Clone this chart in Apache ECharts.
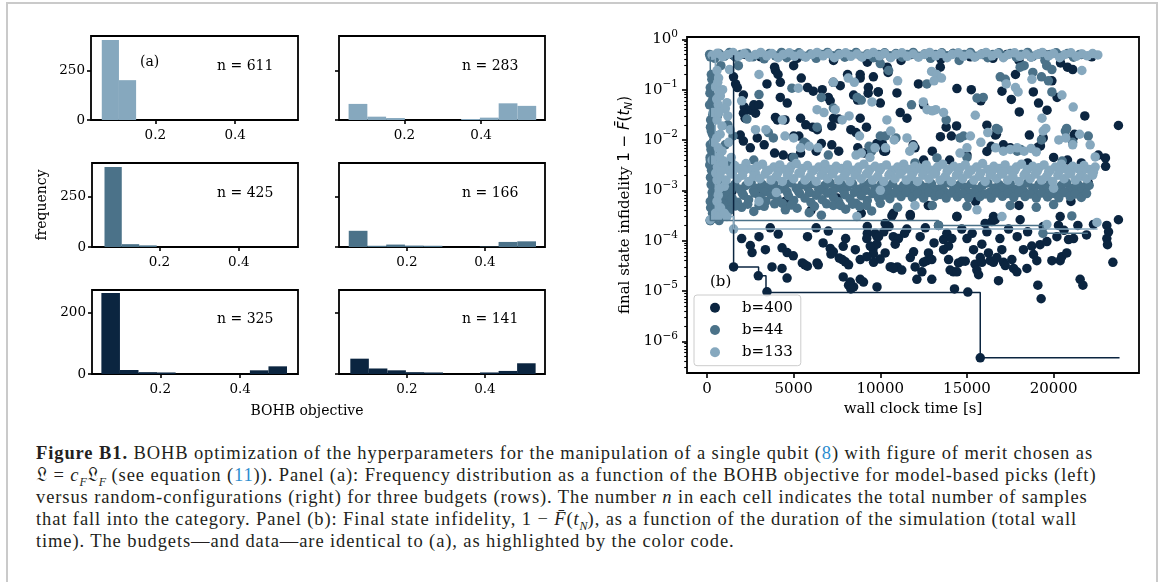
<!DOCTYPE html>
<html><head><meta charset="utf-8">
<script src="https://cdn.jsdelivr.net/npm/echarts@6/dist/echarts.min.js"></script>
<style>
html,body{margin:0;padding:0;background:#fff;}
#wrap{position:relative;width:1167px;height:582px;overflow:hidden;background:#fff;}
#frame{position:absolute;left:6px;top:2px;width:1152px;height:700px;border:2px solid #cacaca;box-sizing:border-box;}
#chart{position:absolute;left:0;top:0;width:1167px;height:430px;}
#cap{position:absolute;left:36px;top:442px;font-family:'Liberation Serif',serif;font-size:18.5px;letter-spacing:0.9px;line-height:22px;color:#231f20;white-space:nowrap;}
#cap .l{color:#2b8ccf;}
#cap sub{font-size:12px;line-height:0;letter-spacing:0;}
</style>
</head><body>
<div id="wrap">
<div id="frame"></div>
<div id="chart"></div>
<div id="cap">
<div><b>Figure B1.</b> BOHB optimization of the hyperparameters for the manipulation of a single qubit (<span class="l">8</span>) with figure of merit chosen as</div>
<div>𝔏 = <i>c<sub>F</sub></i>𝔏<sub><i>F</i></sub> (see equation (<span class="l">11</span>)). Panel (a): Frequency distribution as a function of the BOHB objective for model-based picks (left)</div>
<div>versus random-configurations (right) for three budgets (rows). The number <i>n</i> in each cell indicates the total number of samples</div>
<div>that fall into the category. Panel (b): Final state infidelity, 1 − <i>F̄</i>(<i>t<sub>N</sub></i>), as a function of the duration of the simulation (total wall</div>
<div>time). The budgets—and data—are identical to (a), as highlighted by the color code.</div>
</div>
</div>
<script>
// ---------------- DATA ----------------
// Histogram panels (order: row1-left, row1-right, row2-left, row2-right, row3-left, row3-right)
const histEdges = [
  [0.066, 0.109, 0.152],
  [0.054, 0.103, 0.152, 0.201, 0.250, 0.299, 0.348, 0.397, 0.446, 0.495, 0.544],
  [0.0615, 0.105, 0.149, 0.193],
  [0.051, 0.099, 0.147, 0.195, 0.243, 0.291, 0.339, 0.387, 0.435, 0.483, 0.531],
  [0.0525, 0.099, 0.1455, 0.192, 0.2385, 0.285, 0.3315, 0.378, 0.4245, 0.471, 0.5175],
  [0.055, 0.1025, 0.150, 0.1975, 0.245, 0.2925, 0.340, 0.3875, 0.435, 0.4825, 0.530]
];
const histCounts = [
  [408, 203],
  [82, 17, 10, 0, 0, 0, 5, 12, 85, 72],
  [395, 14, 8],
  [80, 6, 12, 7, 6, 0, 0, 2, 25, 28],
  [264, 13, 6, 5, 0, 0, 0, 0, 12, 25],
  [50, 18, 12, 6, 5, 0, 0, 5, 10, 35]
];
const histN = [611, 283, 425, 166, 325, 141];
const histXTicks = [0.2, 0.4];
const histYTicks = [[0, 250], [0, 250], [0, 250], [0, 250], [0, 200], [0, 200]];
const histXRange = [[0.039, 0.5575], [0.029, 0.567], [0.030, 0.549], [0.026, 0.554], [0.029, 0.545], [0.026, 0.554]];
const histYMax = [428, 428, 415, 415, 274, 274];

// Scatter (b): wall clock time [s], final state infidelity
const budgets = ['b=400', 'b=44', 'b=133'];
const pts400 = [
[1535,0.48],[2200,0.5],[3100,0.45],[4400,0.5],[5200,0.42],[6500,0.5],[7300,0.38],[8000,0.5],[9250,0.35],[9900,0.42],[10600,0.45],[11200,0.38],[11800,0.5],[12900,0.45],[13500,0.4],[14200,0.52],[15200,0.45],[15900,0.5],[16500,0.42],[17300,0.5],[18000,0.38],[18700,0.45],[19500,0.5],[20400,0.34],[20800,0.28],[21100,0.25],[21600,0.5],[22200,0.45],[8840,0.2],[13460,0.28],[3900,0.28],[5000,0.3],
[1530,0.18],[1650,0.13],[1750,0.11],[2100,0.078],[2150,0.045],[2500,0.039],[2800,0.034],[3460,0.13],[3950,0.24],[4100,0.2],[4230,0.14],[4230,0.07],[4630,0.054],[5440,0.17],[5800,0.11],[6130,0.093],[6650,0.1],[7000,0.07],[7110,0.06],[7290,0.14],[7690,0.12],[8110,0.2],[8460,0.078],[8690,0.062],[8840,0.17],[9600,0.18],[9880,0.09],[10400,0.28],[10450,0.22],
[2100,0.034],[2200,0.027],[2700,0.05],[3000,0.05],[3950,0.028],[4060,0.025],[4500,0.025],[5400,0.027],[5700,0.02],[6100,0.018],[6360,0.016],[5000,0.012],[5300,0.012],[7300,0.027],[7600,0.026],[7200,0.019],[8300,0.016],[8600,0.014],[9200,0.018],
[10960,0.086],[14420,0.105],[15250,0.1],[17020,0.093],[17560,0.064],[18830,0.09],[19130,0.054],[19620,0.039],[18020,0.036],[16150,0.0197],[16640,0.0125],[16700,0.013],[13800,0.018],[14100,0.012],[14400,0.019],[13470,0.0116],[18600,0.0125],[19400,0.011],[21130,0.011],[21200,0.013],[11150,0.035],[11540,0.027],[9880,0.09],[10000,0.054],[9310,0.11],[9300,0.085],[8840,0.027],[23740,0.0194],[12500,0.05],[15800,0.06],[20200,0.07],[21800,0.03],[12200,0.13],[17800,0.2],[19900,0.15],
[1920,0.0125],[2100,0.0095],[2500,0.007],[2900,0.011],[3300,0.008],[3900,0.0055],[4400,0.005],[4900,0.0045],[5400,0.0055],[6300,0.006],[6600,0.0085],[7200,0.008],[7600,0.006],[8700,0.007],[9100,0.0055],[9800,0.0085],[10300,0.006],[10120,0.0085],[10200,0.006],[11900,0.008],[12000,0.007],[13000,0.006],[14000,0.004],[15000,0.005],[16150,0.0059],[16400,0.0075],[17100,0.008],[17500,0.007],[19240,0.0076],[19100,0.0072],[20000,0.0045],[20800,0.004],[21600,0.0035],[22580,0.005],[22990,0.0044],[22000,0.0014],[18500,0.0035],[12500,0.004],[1440,0.00095],[23000,0.003],
[10750,0.00035],[11730,0.00033],[14420,0.0003],[16530,0.0003],[20380,0.0003],[12770,0.0005],[8900,0.00035],[6000,0.0004],[4500,0.0006],[15500,0.0006],[18000,0.0005],[21000,0.0006],[3000,0.0008],[7500,0.0007],
[3650,0.00018],[4110,0.000135],[2600,5.8e-5],[3370,6.6e-5],[4330,7.2e-5],[4620,5.8e-5],[4980,5e-5],[5500,3.6e-5],[5650,3.3e-5],[5790,3.1e-5],[3750,3e-5],[4330,2.8e-5],[4620,1.8e-5],[6300,0.00018],[7000,0.000155],[7110,7e-5],[7290,6e-5],[7150,5.4e-5],[6350,3.6e-5],[6420,3.3e-5],[7630,4.5e-5],[7800,4.2e-5],[7980,3.8e-5],[7860,7.7e-5],[7860,1.9e-5],[8270,1.5e-5],[8460,1.2e-5],[8170,1.3e-5],[8170,3.3e-5],[8560,6.6e-5],[9250,0.00014],[9810,0.00012],[9250,0.00019],[9580,6.9e-5],[9600,5.5e-5],[9990,4.3e-5],[10200,0.00015],[10500,0.00019],[10750,0.00012],[10650,3e-5],[10980,3e-5],[1535,3e-5],[2960,2e-5],[3460,9.6e-6],[9810,1.2e-5],[8300,1.1e-5],[2000,0.00011],[2500,8e-5],[3000,0.00012],
[8840,4.2e-5],[9220,4.8e-5],[9610,3.7e-5],[9700,0.00014],[9900,0.00012],[9800,8.5e-5],[9220,0.00011],[9420,7.8e-5],[10280,0.00022],[10670,0.00031],[10280,5.7e-5],[10570,3e-5],[10760,2.8e-5],[11240,2.6e-5],[11050,0.00011],[10860,8.5e-5],[11530,0.00017],[11730,0.00031],[11730,4.6e-5],[11920,6e-5],[12010,3e-5],[12110,1.7e-5],[12400,2.4e-5],[12490,3.7e-5],[12690,4e-5],[12780,5.7e-5],[12970,4.2e-5],[12970,1.7e-5],[13360,0.0002],[13650,0.000105],[13840,0.00014],[13940,7.8e-5],[14130,0.00011],[14420,0.0003],[13650,6.6e-5],[13940,4.2e-5],[14030,2.6e-5],[14220,2.4e-5],[14420,2.4e-5],[14510,3.6e-5],[14280,1.1e-5],[15050,9.5e-6],[14710,3.9e-5],[14900,3.9e-5],[15000,0.00011],[15380,6.6e-5],[15470,3.4e-5],[15570,2.6e-5],[15670,2.1e-5],[15770,4.6e-5],[15860,3.7e-5],[15860,8.5e-5],[16150,0.00015],[16050,0.00022],[16440,0.00024],[16630,0.00026],[16240,5.7e-5],[16340,4e-5],[16530,3.7e-5],[16720,4.6e-5],[16820,1.6e-5],[17010,6.6e-5],[17110,3.7e-5],[17210,3.2e-5],[17590,4.2e-5],[17690,2.8e-5],[17880,2.4e-5],[18070,0.00026],[18260,6.6e-5],[18460,2.8e-5],[18740,7.8e-5],[18840,5.3e-5],[19030,4e-5],[19090,1.3e-5],[19280,7e-6],[19220,8.3e-5],[19610,9.6e-5],[19900,4e-5],[20190,0.00012],[20280,0.0002],[20380,4e-5],[20470,4.8e-5],[20760,5.7e-5],[20860,0.000105],[21150,0.00011],[21530,1.7e-5],[21690,1.3e-5],[23070,0.0002],[23170,0.00015],[23070,0.00011],[23110,8.3e-5],[23420,3.7e-5],[23740,0.00026],[15767,4.7e-7],[8840,1.7e-5],[9030,1.5e-5],
[11400,0.00014],[12300,0.00012],[12600,0.00018],[13100,9e-5],[14700,0.00017],[15300,0.00014],[16900,0.00011],[17400,0.00017],[17900,0.00012],[18500,0.00015],[19400,0.00019],[20600,0.00016],[21400,0.0002],[21900,0.00013],[22300,0.00021],[5800,0.00012],[6700,9e-5],[8000,0.00011]
];
const pts44 = [
[190,0.45],[190,0.11],[300,0.06],[420,0.04],[210,0.025],[320,0.013],[190,0.008],[300,0.0055],[190,0.004],[260,0.0025],[450,0.0015],[300,0.0009],[190,0.0006],[400,0.0004],[190,0.00025],[320,0.00035],[520,0.0006],[770,0.0016],[900,0.0011],[1100,0.0006],[250,0.2],[350,0.003],[200,0.0018],[460,0.00028],[700,0.00025],[400,0.07],[250,0.015],[180,0.0045],[600,0.003],[1000,0.0008],[1300,0.0005],[1200,0.02],[1500,0.012],[600,0.03],[150,0.05],[800,0.3],[1050,0.008],[1400,0.0035],
[280,0.16],[170,0.085],[330,0.032],[200,0.018],[380,0.0095],[230,0.0065],[160,0.0032],[330,0.0021],[240,0.0013],[330,0.00075],[210,0.00045],[520,0.0045],[560,0.012],
[150,0.5],[450,0.42],[700,0.52],[1000,0.46],[1300,0.55],[1650,0.44],[1950,0.5],[2300,0.53],[2650,0.45],[2950,0.5],[3300,0.41],[3600,0.52],[3950,0.47],[4300,0.55],[4600,0.43],[4950,0.5],[5300,0.54],[5600,0.46],[5950,0.51],[6300,0.42],[6600,0.5],[6950,0.55],[7250,0.47],[7600,0.52],[7950,0.44],[8250,0.5],[8600,0.55],[8900,0.46],[9250,0.51],[9600,0.43],[9900,0.5],[10250,0.54],[10550,0.47],[10900,0.52],[11250,0.44],[11550,0.5],[11900,0.55],[12200,0.46],[12550,0.51],[12900,0.42],[13200,0.5],[13550,0.54],[13850,0.47],[14200,0.52],[14550,0.38],[14850,0.5],[15200,0.55],[15500,0.46],[15850,0.51],[16200,0.43],[16500,0.5],[16850,0.54],[17150,0.47],[17500,0.52],[17850,0.44],[18150,0.5],[18500,0.55],[18800,0.46],[19150,0.51],[19500,0.38],[19800,0.5],[20150,0.54],[20450,0.47],[20800,0.52],[21150,0.44],[21500,0.5],[19600,0.3],[19900,0.25],[10000,0.33],[18300,0.3],[18800,0.22],[19300,0.18],[19700,0.15],
[1810,0.3],[4900,0.107],[7290,0.043],[6350,0.018],[3540,0.014],[3830,0.011],[2300,0.026],[8670,0.07],[8900,0.062],[6600,0.07],[5600,0.009],[5700,0.0085],[9500,0.006],[10000,0.012],[10300,0.012],[10900,0.011],[10480,0.24],[12690,0.13],[15580,0.068],[15940,0.07],[19900,0.09],[16920,0.18],[17210,0.16],[18070,0.28],[20680,0.015],[20750,0.017],[22000,0.012],[21100,0.009],[16700,0.017],[16800,0.016],[14600,0.011],[14800,0.012],[13270,0.0044],[17900,0.006],[18100,0.0065],[19300,0.01],[9350,0.0075],[12000,0.0035],[2700,0.004],[5000,0.0045],[7000,0.005],[15000,0.0045],[20500,0.0038],[3000,0.08],[11800,0.05],[13800,0.025],
[300,1.25e-3],[620,1.1e-3],[950,1.35e-3],[1250,1.15e-3],[1600,1.3e-3],[1900,1.05e-3],[2250,1.25e-3],[2550,1.4e-3],[2900,1.1e-3],[3200,1.3e-3],[3550,1.15e-3],[3850,1.35e-3],[4200,1.05e-3],[4500,1.25e-3],[4850,1.4e-3],[5150,1.1e-3],[5500,1.3e-3],[5800,1.15e-3],[6150,1.35e-3],[6450,1.05e-3],[6800,1.25e-3],[7100,1.4e-3],[7450,1.1e-3],[7750,1.3e-3],[8100,1.15e-3],[8400,1.35e-3],[8750,1.05e-3],[9050,1.25e-3],[9400,1.4e-3],[9700,1.1e-3],[10050,1.3e-3],[10350,1.15e-3],[10700,1.35e-3],[11000,1.05e-3],[11350,1.25e-3],[11650,1.4e-3],[12000,1.1e-3],[12300,1.3e-3],[12650,1.15e-3],[12950,1.35e-3],[13300,1.05e-3],[13600,1.25e-3],[13950,1.4e-3],[14250,1.1e-3],[14600,1.3e-3],[14900,1.15e-3],[15250,1.35e-3],[15550,1.05e-3],[15900,1.25e-3],[16200,1.4e-3],[16550,1.1e-3],[16850,1.3e-3],[17200,1.15e-3],[17500,1.35e-3],[17850,1.05e-3],[18150,1.25e-3],[18500,1.4e-3],[18800,1.1e-3],[19150,1.3e-3],[19450,1.15e-3],[19800,1.35e-3],[20100,1.05e-3],[20450,1.25e-3],[20750,1.4e-3],[21100,1.1e-3],[21400,1.3e-3],[21750,1.15e-3],[22050,1.25e-3],
[700,9.5e-4],[1380,1e-3],[2020,9e-4],[2680,9.8e-4],[3310,9.2e-4],[3960,1e-3],[4620,9.3e-4],[5260,9.7e-4],[5920,9e-4],[6560,1e-3],[7210,9.4e-4],[7870,9.8e-4],[8510,9.1e-4],[9170,1e-3],[9810,9.3e-4],[10460,9.7e-4],[11120,9.1e-4],[11760,1e-3],[12420,9.4e-4],[13060,9.8e-4],[13710,9.2e-4],[14370,1e-3],[15010,9.3e-4],[15670,9.7e-4],[16310,9e-4],[16960,1e-3],[17620,9.4e-4],[18260,9.8e-4],[18920,9.1e-4],[19560,1e-3],[20210,9.3e-4],[20870,9.7e-4],[21510,9.2e-4],
[450,7.5e-4],[780,6.2e-4],[1100,8.5e-4],[1450,7e-4],[1750,5.8e-4],[2100,8e-4],[2400,6.5e-4],[2750,8.8e-4],[3050,7.2e-4],[3400,6e-4],[3700,8.2e-4],[4050,6.8e-4],[4350,5.5e-4],[4700,7.8e-4],[5000,6.3e-4],[5350,8.6e-4],[5650,7e-4],[6000,5.7e-4],[6300,8e-4],[6650,6.5e-4],[6950,8.8e-4],[7300,7.2e-4],[7600,5.9e-4],[7950,8.2e-4],[8250,6.8e-4],[8600,5.5e-4],[8900,7.8e-4],[9250,6.3e-4],[9550,8.6e-4],[9900,7e-4],[10200,8e-4],[10550,6.8e-4],[10850,8.8e-4],[11200,7.5e-4],[11500,9e-4],[11850,7.2e-4],[12150,8.5e-4],[12500,7e-4],[12800,9e-4],[13150,7.6e-4],[13450,8.3e-4],[13800,7e-4],[14100,8.8e-4],[14450,7.4e-4],[14750,8.6e-4],[15100,7.1e-4],[15400,9e-4],[15750,7.5e-4],[16050,8.4e-4],[16400,7e-4],[16700,8.8e-4],[17050,7.6e-4],[17350,8.6e-4],[17700,7.2e-4],[18000,9e-4],[18350,7.5e-4],[18650,8.4e-4],[19000,7e-4],[19300,8.8e-4],[19650,7.4e-4],[19950,8.6e-4],[20300,7.1e-4],[20600,9e-4],[20950,7.5e-4],[21250,8.4e-4],[21600,7.2e-4],[21900,8.6e-4],
[600,4.5e-4],[1300,4e-4],[2000,4.6e-4],[2700,3.8e-4],[3300,4.8e-4],[4520,4.1e-4],[5200,4.4e-4],[5900,3.6e-4],[7290,5e-4],[8000,4.2e-4],[8800,4.8e-4],[9500,3.9e-4],[11000,4.6e-4],[13000,5e-4],[15000,4.8e-4],[17500,5e-4],[19000,4.6e-4],[21050,3.1e-4],[20000,5.2e-4],[6600,3.2e-4],
[950,5.2e-4],[1650,4.9e-4],[2350,5.3e-4],[3000,5e-4],[3900,5.4e-4],[4850,5.1e-4],[6200,4.8e-4],[6900,5.4e-4],[7700,5e-4],[8400,5.3e-4],[9200,5e-4],[10000,5.5e-4],
[190,2.5e-4],[13361,2e-4],[19384,1.4e-4]
];
const pts133 = [
[577,0.24],[670,0.17],[480,0.113],[770,0.075],[650,0.05],[1150,0.055],[1060,0.042],[577,0.025],[865,0.019],[1200,0.03],[1345,0.016],[650,0.007],[865,0.006],[770,0.0035],[960,0.0038],[650,0.0008],[577,0.0006],[480,0.00035],[190,0.00026],[650,0.0003],[1150,0.0003],[1535,0.00017],[400,0.009],[300,0.004],[1000,0.0012],[1400,0.0045],[350,0.035],[900,0.1],[1300,0.25],[500,0.0022],[1250,0.009],
[620,0.14],[720,0.09],[560,0.065],[700,0.035],[760,0.013],[560,0.011],[720,0.0047],[580,0.0016],[720,0.0011],[780,0.00045],[1000,0.00035],
[300,0.48],[600,0.53],[900,0.45],[1200,0.5],[1500,0.55],[1800,0.46],[2150,0.52],[2450,0.44],[2800,0.5],[3100,0.55],[3450,0.47],[3750,0.52],[4100,0.43],[4400,0.5],[4750,0.54],[5050,0.46],[5400,0.51],[5700,0.44],[6050,0.5],[6350,0.55],[6700,0.47],[7000,0.52],[7350,0.43],[7650,0.5],[8000,0.54],[8300,0.46],[8650,0.51],[8950,0.44],[9300,0.5],[9600,0.55],[9950,0.47],[10250,0.52],[10600,0.43],[10900,0.5],[11250,0.54],[11550,0.46],[11900,0.51],[12200,0.44],[12550,0.5],[12850,0.55],[13200,0.47],[13500,0.52],[13850,0.43],[14150,0.5],[14500,0.54],[14800,0.46],[15150,0.51],[15450,0.44],[15800,0.5],[16100,0.55],[16450,0.47],[16750,0.52],[17100,0.43],[17400,0.5],[17750,0.54],[18050,0.46],[18400,0.51],[18700,0.44],[19050,0.5],[19350,0.55],[19700,0.47],[20000,0.52],[20350,0.43],[20650,0.5],[21000,0.54],[21300,0.46],[21650,0.51],[21950,0.47],[22250,0.52],[22550,0.49],
[12960,0.23],[13250,0.2],[13530,0.17],[13100,0.15],[12480,0.057],[12700,0.04],[13200,0.04],[13650,0.035],[13000,0.038],[15480,0.031],[17270,0.13],[17800,0.11],[17950,0.09],[18750,0.16],[20480,0.078],[21130,0.045],[21630,0.24],[22400,0.0046],[22110,0.008],[19330,0.027],[19550,0.017],[19400,0.015],[20300,0.01],[20700,0.011],[21100,0.008],[21500,0.013],[9520,0.057],[10380,0.025],[10600,0.015],[10800,0.01],[11540,0.011],[11700,0.006],[11900,0.0075],[14600,0.0055],[15000,0.007],[15200,0.012],[15800,0.009],[16200,0.014],[16650,0.007],[17100,0.006],[17500,0.0065],[17900,0.007],[18300,0.006],[18700,0.0068],[19000,0.0058],
[5270,0.107],[7290,0.14],[8150,0.17],[8500,0.14],[6350,0.04],[6750,0.035],[4350,0.025],[7800,0.025],[8200,0.03],[7400,0.04],[8800,0.012],[4500,0.012],[5000,0.011],[2800,0.016],[3400,0.016],[5400,0.007],[5900,0.0075],[6400,0.007],[8600,0.005],[8900,0.0055],[9400,0.0045],[9700,0.007],[10300,0.007],[2000,0.06],[3000,0.2],[11000,0.15],
[15580,4.1e-4],[17020,3e-4],[22500,2.3e-4],[19610,2.1e-4],[8650,3e-4],[12000,5e-4],[4000,9e-4],[10000,1e-3],[20000,1.1e-3],[3000,6e-4],
[600,2.9e-3],[950,3.3e-3],[1250,2.5e-3],[1600,3.1e-3],[1900,2.7e-3],[2250,3.4e-3],[2550,2.6e-3],[2900,3.0e-3],[3200,3.3e-3],[3550,2.5e-3],[3850,2.9e-3],[4200,3.2e-3],[4500,2.6e-3],[4850,3.0e-3],[5150,3.4e-3],[5500,2.7e-3],[5800,3.1e-3],[6150,2.5e-3],[6450,2.9e-3],[6800,3.3e-3],[7100,2.6e-3],[7450,3.0e-3],[7750,2.7e-3],[8100,3.2e-3],[8400,2.5e-3],[8750,2.9e-3],[9050,3.3e-3],[9400,2.6e-3],[9700,3.0e-3],[10050,2.8e-3],[10350,3.2e-3],[10700,2.5e-3],[11000,2.9e-3],[11350,3.3e-3],[11650,2.6e-3],[12000,3.0e-3],[12300,2.7e-3],[12650,3.2e-3],[12950,2.5e-3],[13300,2.9e-3],[13600,3.3e-3],[13950,2.6e-3],[14250,3.0e-3],[14600,2.8e-3],[14900,3.2e-3],[15250,2.5e-3],[15550,2.9e-3],[15900,3.4e-3],[16200,2.6e-3],[16550,3.0e-3],[16850,2.7e-3],[17200,3.2e-3],[17500,2.5e-3],[17850,2.9e-3],[18150,3.3e-3],[18500,2.6e-3],[18800,3.0e-3],[19150,2.8e-3],[19450,3.2e-3],[19800,2.5e-3],[20100,2.9e-3],[20450,3.3e-3],[20750,2.6e-3],[21100,3.0e-3],[21400,2.7e-3],[21750,3.1e-3],[22050,2.6e-3],[22400,2.9e-3],
[820,2.4e-3],[1480,2.3e-3],[2150,2.5e-3],[2790,2.2e-3],[3440,2.4e-3],[4110,2.3e-3],[4760,2.5e-3],[5390,2.2e-3],[6060,2.4e-3],[6710,2.3e-3],[7360,2.5e-3],[8010,2.2e-3],[8660,2.4e-3],[9310,2.3e-3],[9960,2.5e-3],[10590,2.2e-3],[11260,2.4e-3],[11910,2.3e-3],[12560,2.5e-3],[13190,2.2e-3],[13860,2.4e-3],[14510,2.3e-3],[15160,2.5e-3],[15790,2.2e-3],[16460,2.4e-3],[17110,2.3e-3],[17760,2.5e-3],[18390,2.2e-3],[19060,2.4e-3],[19710,2.3e-3],[20360,2.5e-3],[20990,2.2e-3],[21660,2.4e-3],[22300,2.3e-3],
[750,1.9e-3],[1100,1.6e-3],[1400,2.1e-3],[1750,1.7e-3],[2050,2.0e-3],[2400,1.5e-3],[2700,1.9e-3],[3050,1.7e-3],[3350,2.1e-3],[3700,1.6e-3],[4000,1.9e-3],[4350,1.5e-3],[4650,2.0e-3],[5000,1.7e-3],[5300,2.2e-3],[5650,1.6e-3],[5950,1.9e-3],[6300,1.5e-3],[6600,2.0e-3],[6950,1.7e-3],[7250,2.1e-3],[7600,1.6e-3],[7900,1.9e-3],[8250,1.5e-3],[8550,2.0e-3],[8900,1.7e-3],[9200,2.1e-3],[9550,1.6e-3],[9850,1.9e-3],[10200,1.5e-3],[10500,2.0e-3],[10850,1.7e-3],[11150,2.1e-3],[11500,1.6e-3],[11800,1.9e-3],[12150,1.5e-3],[12450,2.0e-3],[12800,1.7e-3],[13100,2.1e-3],[13450,1.6e-3],[13750,1.9e-3],[14100,1.5e-3],[14400,2.0e-3],[14750,1.7e-3],[15050,2.1e-3],[15400,1.6e-3],[15700,1.9e-3],[16050,1.5e-3],[16350,2.0e-3],[16700,1.7e-3],[17000,2.1e-3],[17350,1.6e-3],[17650,1.9e-3],[18000,1.5e-3],[18300,2.0e-3],[18650,1.7e-3],[18950,2.1e-3],[19300,1.6e-3],[19600,1.9e-3],[19950,1.5e-3],[20250,2.0e-3],[20600,1.7e-3],[20900,2.1e-3],[21250,1.6e-3],[21550,1.9e-3],[21900,1.7e-3],[22250,2.0e-3]
];
// incumbent (best so far) trajectories, post-step
const best400 = [[1535,0.48],[1535,3e-5],[2977,2e-5],[3404,9.3e-6],[15767,4.7e-7],[23804,4.7e-7]];
const best44 = [[190,0.45],[190,2.5e-4],[13361,2.0e-4],[19384,1.4e-4],[21980,1.4e-4]];
const best133 = [[480,0.5],[480,3e-4],[1535,1.7e-4],[22535,1.7e-4]];
const xTicksB = [0, 5000, 10000, 15000, 20000];
const yDecadesB = [-6, -5, -4, -3, -2, -1, 0];
const minorMult = [2, 3, 4, 5, 6, 7, 8, 9];

// ---------------- CHART ----------------
const SERIF = "'DejaVu Serif', serif";
const COLORS = { 'b=400': '#0b2540', 'b=44': '#4b7289', 'b=133': '#86a8be' };
const histColors = [COLORS['b=133'], COLORS['b=133'], COLORS['b=44'], COLORS['b=44'], COLORS['b=400'], COLORS['b=400']];
const gridPos = [
  { left: 91, top: 36, width: 207, height: 84 },
  { left: 339, top: 36, width: 206, height: 84 },
  { left: 92, top: 163, width: 206, height: 84 },
  { left: 339, top: 163, width: 206, height: 84 },
  { left: 92, top: 290, width: 206, height: 84 },
  { left: 339, top: 290, width: 206, height: 84 },
  { left: 687, top: 37, width: 452, height: 336 }
];
const grids = gridPos.map(g => Object.assign({ show: true, borderColor: '#000', borderWidth: 1.8, backgroundColor: 'transparent', containLabel: false }, g));
const xAxes = [], yAxes = [], series = [];
const tickLine = { color: '#000', width: 1.6 };
const noLine = { show: false, onZero: false };
for (let i = 0; i < 6; i++) {
  xAxes.push({
    type: 'value', gridIndex: i, min: histXRange[i][0], max: histXRange[i][1], position: 'bottom',
    axisLine: noLine, splitLine: { show: false },
    axisTick: { show: true, customValues: histXTicks, length: 4, lineStyle: tickLine },
    axisLabel: { customValues: histXTicks, formatter: v => v.toFixed(1), fontFamily: SERIF, fontSize: 13.5, color: '#000', margin: 8 }
  });
  const left = i % 2 === 0;
  yAxes.push({
    type: 'value', gridIndex: i, min: 0, max: histYMax[i], position: 'left',
    axisLine: noLine, splitLine: { show: false },
    axisTick: { show: true, customValues: histYTicks[i], length: 4, lineStyle: tickLine },
    axisLabel: { show: left, customValues: histYTicks[i], fontFamily: SERIF, fontSize: 13.5, color: '#000', margin: 6 }
  });
  const data = [];
  histCounts[i].forEach((c, k) => { if (c > 0) data.push([histEdges[i][k], histEdges[i][k + 1], c]); });
  const col = histColors[i];
  series.push({
    type: 'custom', xAxisIndex: i, yAxisIndex: i, data: data, silent: true,
    encode: { x: [0, 1], y: 2 },
    renderItem: (params, api) => {
      const p0 = api.coord([api.value(0), api.value(2)]);
      const p1 = api.coord([api.value(1), 0]);
      return { type: 'rect', shape: { x: p0[0], y: p0[1], width: p1[0] - p0[0], height: p1[1] - p0[1] }, style: { fill: col } };
    }
  });
}
// scatter axes
const yMinLog = -6.63, yMaxLog = 0.046;
const minorTicks = [];
for (let e = -7; e <= 0; e++) minorMult.forEach(m => { const v = Math.log10(m) + e; if (v > yMinLog && v < yMaxLog) minorTicks.push(v); });
xAxes.push({
  type: 'value', gridIndex: 6, min: -1154, max: 24927, position: 'bottom',
  axisLine: noLine, splitLine: { show: false },
  axisTick: { show: true, customValues: xTicksB, length: 5, lineStyle: tickLine },
  axisLabel: { customValues: xTicksB, formatter: v => String(Math.round(v)), fontFamily: SERIF, fontSize: 15, color: '#000', margin: 9 }
});
const expStr = v => (v < 0 ? '\u2212' + (-v) : '' + v);
yAxes.push({
  type: 'value', gridIndex: 6, min: yMinLog, max: yMaxLog, position: 'left', offset: 0,
  axisLine: noLine, splitLine: { show: false },
  axisTick: { show: true, customValues: yDecadesB, length: 5, lineStyle: tickLine },
  axisLabel: {
    customValues: yDecadesB, margin: 9, color: '#000',
    formatter: v => '{b|10}{s|' + expStr(Math.round(v)) + '}',
    rich: {
      b: { fontFamily: SERIF, fontSize: 15, color: '#000' },
      s: { fontFamily: SERIF, fontSize: 10.5, color: '#000', padding: [0, 0, 11, 0] }
    }
  }
});
yAxes.push({
  type: 'value', gridIndex: 6, min: yMinLog, max: yMaxLog, position: 'left', offset: 0,
  axisLine: noLine, splitLine: { show: false },
  axisTick: { show: true, customValues: minorTicks, length: 2.8, lineStyle: { color: '#000', width: 1.1 } },
  axisLabel: { show: false }
});
const toLog = arr => arr.map(p => [p[0], Math.log10(p[1])]);
[[budgets[0], pts400], [budgets[1], pts44], [budgets[2], pts133]].forEach(([name, pts]) => {
  series.push({
    type: 'scatter', name: name, xAxisIndex: 6, yAxisIndex: 6, data: toLog(pts),
    symbol: 'circle', symbolSize: 9.5, itemStyle: { color: COLORS[name], opacity: 1 }, silent: true, z: 2
  });
});
[[budgets[0], best400], [budgets[1], best44], [budgets[2], best133]].forEach(([name, pts]) => {
  series.push({
    type: 'line', name: 'best ' + name, xAxisIndex: 6, yAxisIndex: 6, data: toLog(pts), step: 'end',
    symbol: 'none', lineStyle: { color: COLORS[name], width: 1.5 }, silent: true, z: 3
  });
});

const txt = (x, y, text, extra) => Object.assign({
  type: 'text', x: x, y: y, silent: true,
  style: Object.assign({ text: text, fontFamily: SERIF, fontSize: 14, fill: '#000', align: 'left', verticalAlign: 'middle', textAlign: 'left', textVerticalAlign: 'middle' }, (extra && extra.style) || {})
}, extra ? { rotation: extra.rotation || 0 } : {});

const nPos = [[217, 66], [462, 66], [217, 193], [462, 193], [217, 319.5], [462, 319.5]];
const graphics = [];
histN.forEach((n, i) => graphics.push(txt(nPos[i][0], nPos[i][1], 'n = ' + n)));
graphics.push(txt(140, 62.5, '(a)'));
graphics.push(txt(42, 205, 'frequency', { rotation: Math.PI / 2, style: { align: 'center', textAlign: 'center' } }));
graphics.push(txt(307, 411, 'BOHB objective', { style: { align: 'center', textAlign: 'center' } }));
graphics.push(txt(710, 282, '(b)', { style: { fontSize: 15 } }));
graphics.push(txt(913, 409, 'wall clock time [s]', { style: { align: 'center', textAlign: 'center', fontSize: 15 } }));
graphics.push({
  type: 'text', x: 625, y: 205, rotation: Math.PI / 2, silent: true,
  style: {
    text: 'final state infidelity {m|1 \u2212 }{mi|F\u0304}{m|(}{mi|t}{sub|N}{m|)}',
    fontFamily: SERIF, fontSize: 15, fill: '#000', align: 'center', verticalAlign: 'middle', textAlign: 'center', textVerticalAlign: 'middle',
    rich: {
      m: { fontFamily: "'DejaVu Sans', sans-serif", fontSize: 15, fill: '#000' },
      mi: { fontFamily: "'DejaVu Sans', sans-serif", fontStyle: 'italic', fontSize: 15, fill: '#000' },
      sub: { fontFamily: "'DejaVu Sans', sans-serif", fontStyle: 'italic', fontSize: 10.5, fill: '#000', padding: [8, 0, 0, 0] }
    }
  }
});

const chart = echarts.init(document.getElementById('chart'), null, { renderer: 'canvas' });
chart.setOption({
  animation: false,
  backgroundColor: 'transparent',
  grid: grids,
  xAxis: xAxes,
  yAxis: yAxes,
  series: series,
  legend: {
    data: budgets, orient: 'vertical', left: 694, top: 295, icon: 'circle',
    itemWidth: 10, itemHeight: 10, itemGap: 7.3, padding: [5.2, 8, 5.9, 16],
    backgroundColor: 'rgba(255,255,255,0.85)', borderColor: '#cccccc', borderWidth: 1, borderRadius: 3,
    selectedMode: false,
    textStyle: { fontFamily: SERIF, fontSize: 15, lineHeight: 15, color: '#000', padding: [0, 0, 0, 17] }
  },
  graphic: graphics
});
</script>
</body></html>
